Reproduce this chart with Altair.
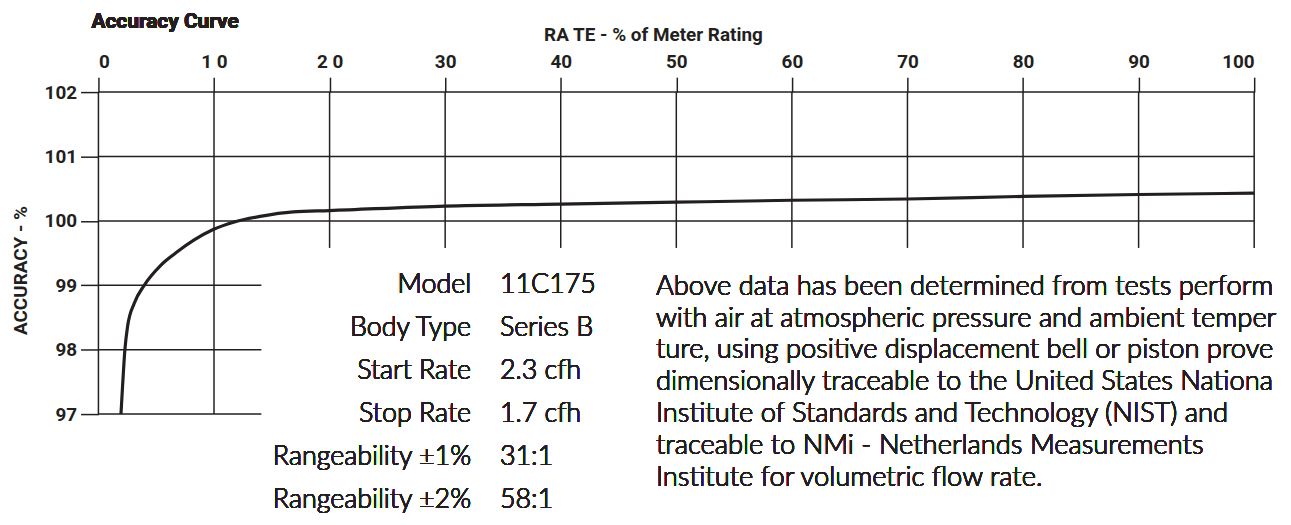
import altair as alt
import pandas as pd

INK = "#231f20"
NARROW = "Roboto"
BODY = "Lato"

# ---- data ----
rate = [1.95, 2.09, 2.29, 2.52, 3.10, 3.96, 5.39, 6.82, 8.25, 9.97, 11.69,
        13.99, 16.85, 20, 30, 40, 50, 60, 70, 80, 90, 100]
accuracy = [97.0, 97.44, 98.0, 98.36, 98.72, 99.0, 99.31, 99.52, 99.70, 99.87,
            99.98, 100.07, 100.14, 100.16, 100.23, 100.26, 100.29, 100.32,
            100.34, 100.38, 100.41, 100.43]

x_ticks = [0, 10, 20, 30, 40, 50, 60, 70, 80, 90, 100]
y_ticks = [97, 98, 99, 100, 101, 102]

h_grid_level = [102, 101, 100, 99, 98, 97]
h_grid_end = [100, 100, 100, 14.1, 14.1, 14.1]
v_grid_level = [0, 10, 20, 30, 40, 50, 60, 70, 80, 90, 100]
v_grid_bottom = [97, 97, 99.58, 99.58, 99.58, 99.58, 99.58, 99.58, 99.58, 99.58, 99.58]

spec_labels = ["Model", "Body Type", "Start Rate", "Stop Rate",
               "Rangeability \u00b11%", "Rangeability \u00b12%"]
spec_values = ["11C175", "Series B", "2.3 cfh", "1.7 cfh", "31:1", "58:1"]
note_lines = [
    "Above data has been determined from tests perform",
    "with air at atmospheric pressure and ambient temper",
    "ture, using positive displacement bell or piston prove",
    "dimensionally traceable to the United States Nationa",
    "Institute of Standards and Technology (NIST) and",
    "traceable to NMi - Netherlands Measurements",
    "Institute for volumetric flow rate.",
]

curve_df = pd.DataFrame({"rate": rate, "accuracy": accuracy})
h_df = pd.DataFrame({"level": h_grid_level, "start": [0] * len(h_grid_level), "end": h_grid_end})
v_df = pd.DataFrame({"level": v_grid_level, "bottom": v_grid_bottom, "top": [102] * len(v_grid_level)})

xscale = alt.Scale(domain=[0, 100], nice=False, zero=False)
yscale = alt.Scale(domain=[97, 102], nice=False, zero=False)

xaxis = alt.Axis(
    orient="top", values=x_ticks, grid=False, domain=False,
    tickSize=15, tickColor=INK, tickWidth=1.5, labelPadding=6,
    labelFont=NARROW, labelFontSize=19, labelFontWeight="bold", labelColor=INK,
    labelExpr="datum.value == 10 ? '1 0' : datum.value == 20 ? '2 0' : datum.label",
    title="RA TE - % of Meter Rating", titleFont=NARROW, titleFontSize=19,
    titleFontWeight="bold", titleColor=INK, titleX=558, titleY=-52,
    titleBaseline="alphabetic", titleAlign="center",
)
yaxis = alt.Axis(
    orient="left", values=y_ticks, grid=False, domain=False,
    tickSize=18, tickColor=INK, tickWidth=1.5, labelPadding=4,
    labelFont=NARROW, labelFontSize=19, labelFontWeight="bold", labelColor=INK,
    title="ACCURACY - %", titleFont=NARROW, titleFontSize=19,
    titleFontWeight="bold", titleColor=INK, titleAngle=270,
    titleX=-72, titleY=179, titleBaseline="alphabetic", titleAlign="center",
)

h_rules = alt.Chart(h_df).mark_rule(color=INK, strokeWidth=1.5).encode(
    x=alt.X("start:Q", scale=xscale, axis=xaxis),
    x2="end:Q",
    y=alt.Y("level:Q", scale=yscale, axis=yaxis),
)
v_rules = alt.Chart(v_df).mark_rule(color=INK, strokeWidth=1.5).encode(
    x=alt.X("level:Q", scale=xscale, axis=xaxis),
    y=alt.Y("bottom:Q", scale=yscale, axis=yaxis),
    y2="top:Q",
)
curve = alt.Chart(curve_df).mark_line(color=INK, strokeWidth=3.2, interpolate="monotone").encode(
    x=alt.X("rate:Q", scale=xscale, axis=xaxis),
    y=alt.Y("accuracy:Q", scale=yscale, axis=yaxis),
)

title_txt = alt.Chart(curve_df).mark_text(
    text="Accuracy Curve", font=NARROW, fontSize=21, fontWeight="bold",
    color=INK, align="left", baseline="alphabetic",
).encode(x=alt.value(-7), y=alt.value(-64))

labels_txt = alt.Chart(curve_df).mark_text(
    text="\n".join(spec_labels), lineBreak="\n", lineHeight=43.3,
    font=BODY, fontSize=27, fontWeight=300, color=INK, align="right", baseline="alphabetic",
).encode(x=alt.value(375), y=alt.value(202.3))

values_txt = alt.Chart(curve_df).mark_text(
    text="\n".join(spec_values), lineBreak="\n", lineHeight=43.3,
    font=BODY, fontSize=27, fontWeight=300, color=INK, align="left", baseline="alphabetic",
).encode(x=alt.value(404), y=alt.value(202.3))

note_txt = alt.Chart(curve_df).mark_text(
    text="\n".join(note_lines), lineBreak="\n", lineHeight=32,
    font=BODY, fontSize=27.5, fontWeight=300, color=INK, align="left", baseline="alphabetic",
).encode(x=alt.value(561), y=alt.value(204))

chart = alt.layer(
    h_rules, v_rules, curve, title_txt, labels_txt, values_txt, note_txt
).properties(
    width=1163, height=324,
    autosize=alt.AutoSizeParams(type="none"),
    padding={"left": 91, "top": 83, "right": 29, "bottom": 110},
    background="white",
).configure_view(strokeWidth=0)

chart.save("out.html", embed_options={"renderer": "svg", "actions": False})
